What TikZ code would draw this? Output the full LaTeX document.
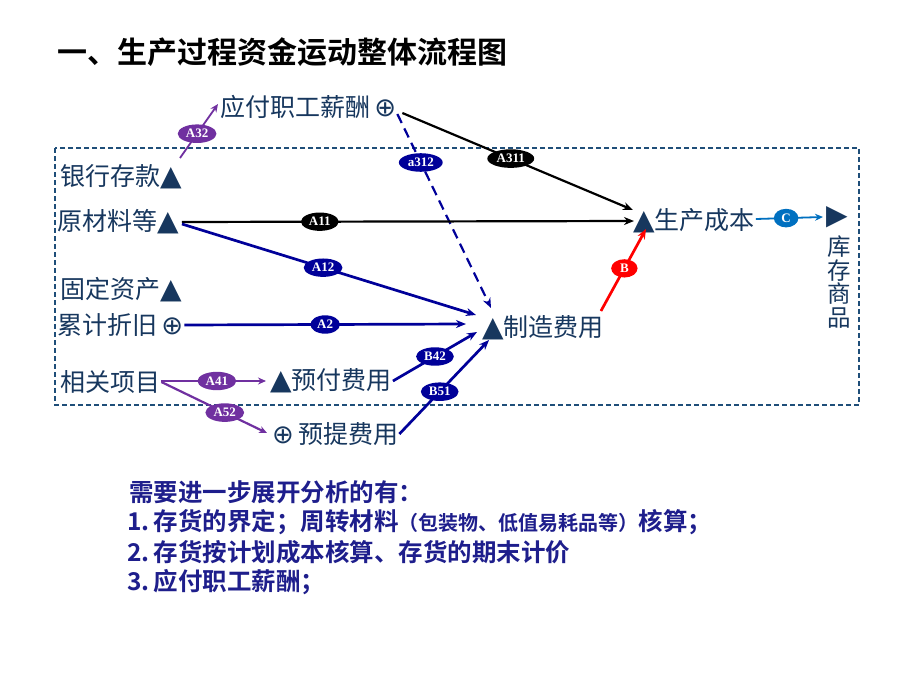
\documentclass[tikz,border=0pt]{standalone}
\usepackage{fontspec}
\newfontfamily\cjk[BoldFont={Noto Sans CJK SC Bold}]{Noto Sans CJK SC}
\newfontfamily\sym{DejaVu Sans}
\newfontfamily\labfont{Liberation Serif}
\usetikzlibrary{shapes.geometric,arrows.meta,calc}
\definecolor{navytxt}{HTML}{17375E}
\definecolor{arrnavy}{HTML}{000099}
\definecolor{purp}{HTML}{7030A0}
\definecolor{boxc}{HTML}{1F4E79}
\definecolor{cblue}{HTML}{0070C0}
\definecolor{btxt}{HTML}{1E1E8C}
\newcommand{\tri}{{\sym\fontsize{28}{25}\selectfont ▲}}
\newcommand{\oplu}{{\sym\fontsize{26}{25}\selectfont ⊕}}
\begin{document}
\begin{tikzpicture}[x=1pt,y=-1pt,
  item/.style={anchor=west,inner sep=0pt,text=navytxt,font=\cjk\fontsize{25}{25}\selectfont},
  lab/.style={ellipse,inner xsep=2.5pt,inner ysep=2.2pt,font=\labfont\bfseries\fontsize{13}{13}\selectfont,text=white},
  flow/.style={line width=2.7pt,-{Stealth[length=10pt,width=8pt]}},
  thin flow/.style={line width=1.8pt,-{Stealth[length=8pt,width=7pt]}},
  note/.style={anchor=west,inner sep=0pt,text=btxt,font=\cjk\bfseries\fontsize{24.5}{24.5}\selectfont}
]
\fill[white] (0,0) rectangle (920,690);
\useasboundingbox (0,0) rectangle (920,690);

% title
\node[anchor=west,inner sep=0pt,font=\cjk\bfseries\fontsize{30}{30}\selectfont] (title) at (57,52) {一、生产过程资金运动整体流程图};

% dashed frame
\draw[boxc,line width=1.4pt,dash pattern=on 5pt off 3pt] (55,148) rectangle (859,405);

% items
\node[item] (pay) at (220,107) {应付职工薪酬\,\oplu};
\node[item] (bank) at (60,177) {银行存款\tri};
\node[item] (raw) at (57,222) {原材料等\tri};
\node[item] (fixed) at (60,290) {固定资产\tri};
\node[item] (dep) at (57,325) {累计折旧\,\oplu};
\node[item] (rel) at (60,382) {相关项目};
\node[item] (pre) at (270,381) {\tri 预付费用};
\node[item] (acc) at (272,434) {\oplu\,预提费用};
\node[item] (mfg) at (482,328) {\tri 制造费用};
\node[item] (cost) at (633,221) {\tri 生产成本};
\node[item] (end) at (826,217) {{\sym\fontsize{28}{25}\selectfont ▶}};
\node[anchor=north,inner sep=0pt,text=navytxt,align=center,font=\cjk\fontsize{23.5}{23.5}\selectfont] (inv) at (839,236) {库\\存\\商\\品};

% end points
\coordinate (a32s) at (180,158);
\coordinate (a32e) at (218,104);
\coordinate (a312e) at (491,308);
\coordinate (a311e) at (633,210);
\coordinate (a11e) at (634,221);
\coordinate (a12e) at (476,315);
\coordinate (a2e) at (466,324);
\coordinate (b42e) at (477,332);
\coordinate (b51e) at (489,340);
\coordinate (be) at (646,229);

% connectors
\draw[thin flow,purp] (a32s) -- node[lab,fill=purp,pos=0.45]{A32} (a32e);
\draw[arrnavy,line width=2.2pt,dash pattern=on 10pt off 6pt,-{Stealth[length=10pt,width=8pt]}] ($(pay.east)+(1,7)$) -- node[lab,fill=arrnavy,pos=0.25]{a312} (a312e);
\draw[flow,black,line width=2.2pt] ($(pay.east)+(6,6)$) -- node[lab,fill=black,pos=0.47]{A311} (a311e);
\draw[flow,black,line width=2.2pt] ($(raw.east)+(3,0)$) -- node[lab,fill=black,pos=0.305]{A11} (a11e);
\draw[flow,arrnavy] ($(raw.east)+(3,2)$) -- node[lab,fill=arrnavy,pos=0.48]{A12} (a12e);
\draw[flow,arrnavy] ($(dep.east)+(1,0)$) -- node[lab,fill=arrnavy,pos=0.5]{A2} (a2e);
\draw[thin flow,purp,line width=2.2pt] ($(rel.east)+(1,-1)$) -- node[lab,fill=purp,pos=0.53]{A41} ($(pre.west)+(-4,0)$);
\draw[thin flow,purp,line width=2.2pt] ($(rel.east)+(1,0)$) -- node[lab,fill=purp,pos=0.6]{A52} ($(acc.west)+(-5,-1)$);
\draw[flow,arrnavy] ($(pre.east)+(1,0)$) -- node[lab,fill=arrnavy,pos=0.5]{B42} (b42e);
\draw[flow,arrnavy] ($(acc.east)+(1,0)$) -- node[lab,fill=arrnavy,pos=0.45]{B51} (b51e);
\draw[flow,red] ($(mfg.east)+(-3,-17)$) -- node[lab,fill=red,pos=0.52,inner xsep=5pt]{B} (be);
\draw[thin flow,cblue] ($(cost.east)+(1,-2)$) -- node[lab,fill=cblue,pos=0.45,inner xsep=4pt]{C} ($(end.west)+(-3,0)$);

% notes
\node[note] (n0) at (129,492) {需要进一步展开分析的有：};
\node[note] (n1) at (127,522) {1.\,存货的界定；周转材料{\fontsize{20}{20}\selectfont （包装物、低值易耗品等）}核算；};
\node[note] (n2) at (127,552) {2.\,存货按计划成本核算、存货的期末计价};
\node[note] (n3) at (127,582) {3.\,应付职工薪酬；};
\end{tikzpicture}
\end{document}
